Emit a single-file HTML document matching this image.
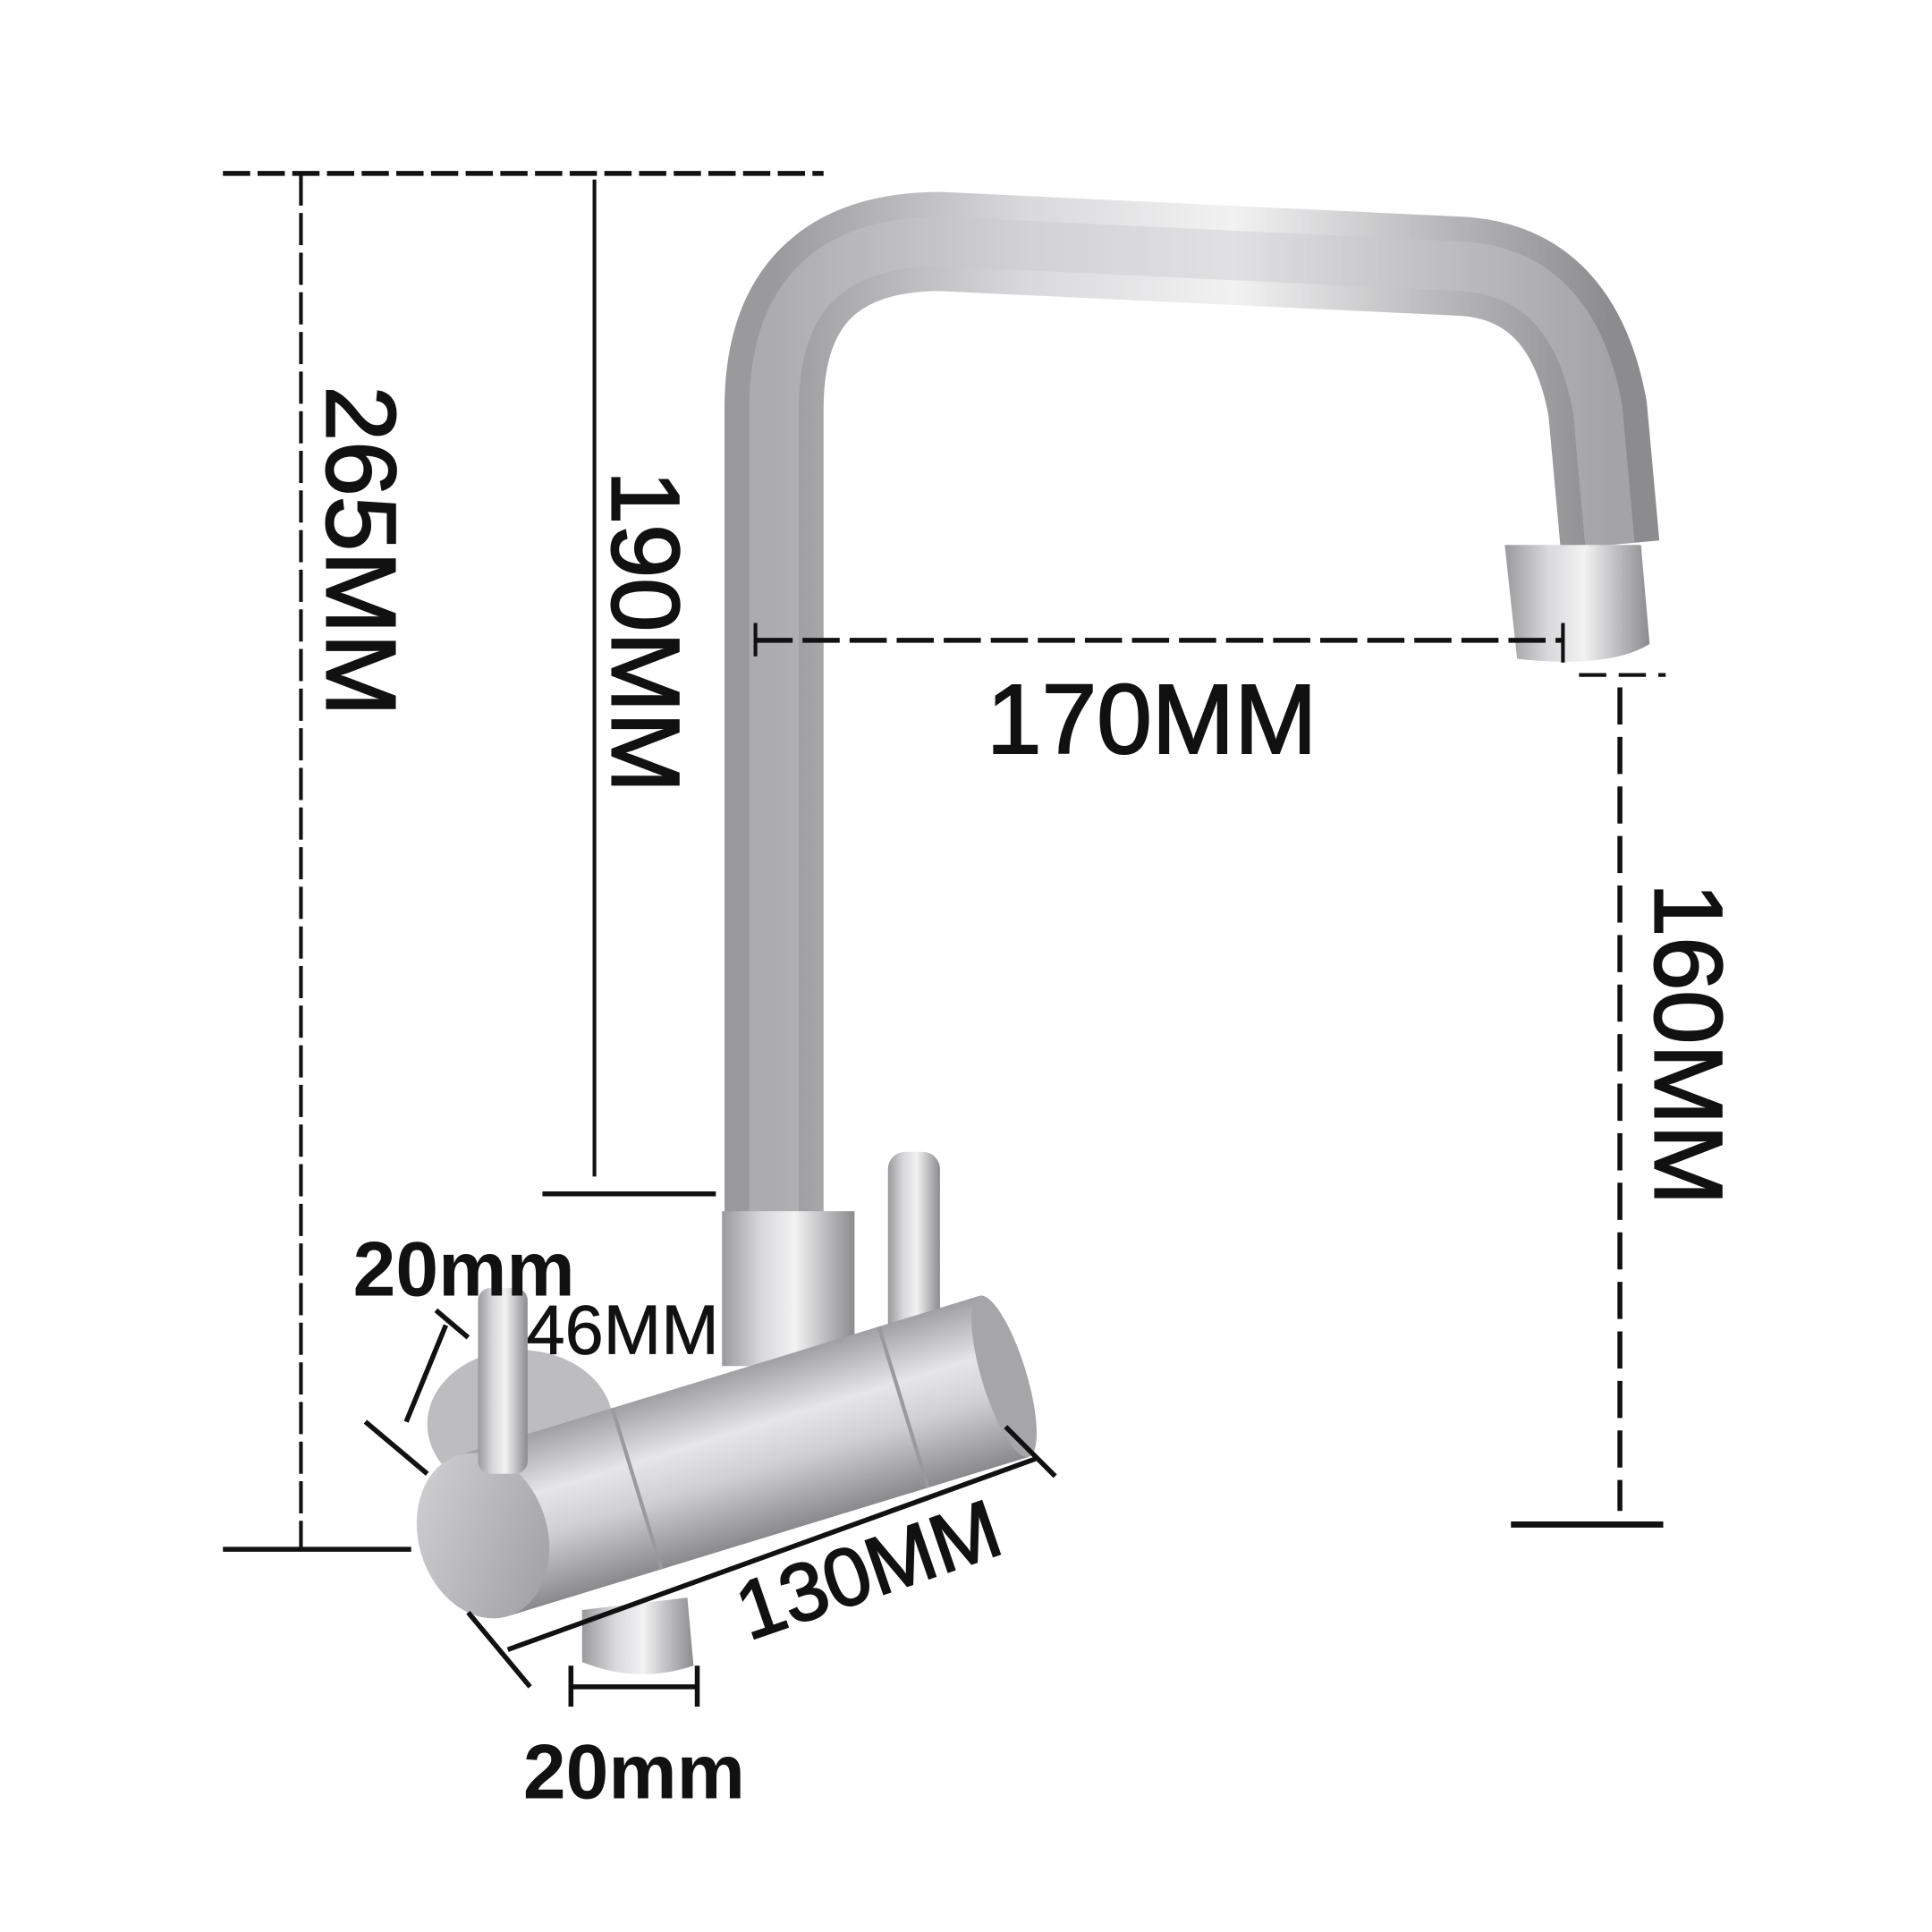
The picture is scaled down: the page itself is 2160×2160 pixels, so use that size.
<!DOCTYPE html>
<html><head><style>html,body{margin:0;padding:0;background:#fff}svg{display:block}</style></head>
<body>
<svg width="2160" height="2160" viewBox="0 0 1560 1560" xmlns="http://www.w3.org/2000/svg">
<defs>
<linearGradient id="gv" x1="0" x2="1" y1="0" y2="0">
<stop offset="0" stop-color="#9a9a9c"/><stop offset="0.3" stop-color="#d9d9db"/><stop offset="0.55" stop-color="#f2f2f3"/><stop offset="0.8" stop-color="#b8b8ba"/><stop offset="1" stop-color="#8c8c8e"/></linearGradient>
<linearGradient id="gh" x1="0" x2="0" y1="0" y2="1">
<stop offset="0" stop-color="#a0a0a2"/><stop offset="0.35" stop-color="#e6e6e8"/><stop offset="0.6" stop-color="#d0d0d2"/><stop offset="1" stop-color="#8a8a8c"/></linearGradient>
<linearGradient id="gc" x1="0" x2="1" y1="0" y2="1">
<stop offset="0" stop-color="#d4d4d6"/><stop offset="1" stop-color="#9c9c9e"/></linearGradient>
</defs>
<!-- faucet spout -->
<path d="M625,980 L625,330 Q625,195 760,195 L1180,215 Q1270,220 1290,330 L1300,440" fill="none" stroke="url(#gv)" stroke-width="80" stroke-linecap="butt"/>
<path d="M625,980 L625,330 Q625,195 760,195 L1180,215 Q1270,220 1290,330 L1300,440" fill="none" stroke="#c8c8ca" stroke-width="40" opacity="0.4"/>
<path d="M1215,440 L1325,440 L1332,520 Q1300,540 1225,532 Z" fill="url(#gv)"/>
<rect x="717" y="930" width="42" height="160" rx="14" fill="url(#gv)"/>
<rect x="583" y="978" width="107" height="125" fill="url(#gv)"/>
<ellipse cx="420" cy="1150" rx="75" ry="60" fill="#bdbdbf"/>
<g transform="rotate(-17 390 1240)">
<rect x="390" y="1172" width="440" height="136" fill="url(#gh)"/>
<line x1="520" y1="1172" x2="520" y2="1308" stroke="#9a9a9c" stroke-width="3"/>
<line x1="745" y1="1172" x2="745" y2="1308" stroke="#9a9a9c" stroke-width="3"/>
<ellipse cx="830" cy="1240" rx="18" ry="68" fill="#a6a6a8"/>
<ellipse cx="390" cy="1240" rx="52" ry="68" fill="url(#gc)"/>
</g>
<path d="M470,1300 L555,1290 L560,1345 Q515,1360 470,1342 Z" fill="url(#gv)"/>
<rect x="386" y="1040" width="40" height="150" rx="10" fill="url(#gv)"/>
<g fill="none" stroke="#111">
<line x1="180" y1="140" x2="665" y2="140" stroke-width="4" stroke-dasharray="22,6"/>
<line x1="243" y1="140" x2="243" y2="1250" stroke-width="3" stroke-dasharray="26,6"/>
<line x1="180" y1="1251" x2="332" y2="1251" stroke-width="4"/>
<line x1="480" y1="145" x2="480" y2="950" stroke-width="3"/>
<line x1="438" y1="964" x2="578" y2="964" stroke-width="4"/>
<line x1="610" y1="517" x2="1262" y2="517" stroke-width="4" stroke-dasharray="30,8"/>
<line x1="610" y1="503" x2="610" y2="530" stroke-width="3"/>
<line x1="1262" y1="503" x2="1262" y2="535" stroke-width="3"/>
<line x1="1275" y1="545" x2="1345" y2="545" stroke-width="3" stroke-dasharray="22,10"/>
<line x1="1308" y1="555" x2="1308" y2="1220" stroke-width="4" stroke-dasharray="30,10"/>
<line x1="1220" y1="1231" x2="1343" y2="1231" stroke-width="5"/>
</g>
<g stroke="#111" stroke-width="4" fill="none">
<line x1="410" y1="1332" x2="836" y2="1178"/>
<line x1="378" y1="1302" x2="428" y2="1362"/>
<line x1="812" y1="1152" x2="852" y2="1192"/>
<line x1="328" y1="1148" x2="360" y2="1070"/>
<line x1="352" y1="1058" x2="378" y2="1080"/>
<line x1="295" y1="1148" x2="345" y2="1190"/>
<line x1="461" y1="1362" x2="563" y2="1362"/>
<line x1="461" y1="1345" x2="461" y2="1378"/>
<line x1="563" y1="1345" x2="563" y2="1378"/>
</g>
<g font-family="Liberation Sans, sans-serif" fill="#111" stroke="#111" stroke-width="1.5">
<text x="285" y="445" font-size="80" transform="rotate(90 285 445)" text-anchor="middle" dominant-baseline="middle">265MM</text>
<text x="515" y="510" font-size="78" transform="rotate(90 515 510)" text-anchor="middle" dominant-baseline="middle">190MM</text>
<text x="1357" y="843" font-size="78" transform="rotate(90 1357 843)" text-anchor="middle" dominant-baseline="middle">160MM</text>
<text x="930" y="608" font-size="80" text-anchor="middle">170MM</text>
<text x="285" y="1046" font-size="62" font-weight="bold" stroke-width="0">20mm</text>
<text x="425" y="1093" font-size="56" stroke-width="0.5">46MM</text>
<text x="702" y="1290" font-size="66" text-anchor="middle" transform="rotate(-19 702 1270)">130MM</text>
<text x="512" y="1452" font-size="62" font-weight="bold" text-anchor="middle" stroke-width="0">20mm</text>
</g>
</svg>
</body></html>
